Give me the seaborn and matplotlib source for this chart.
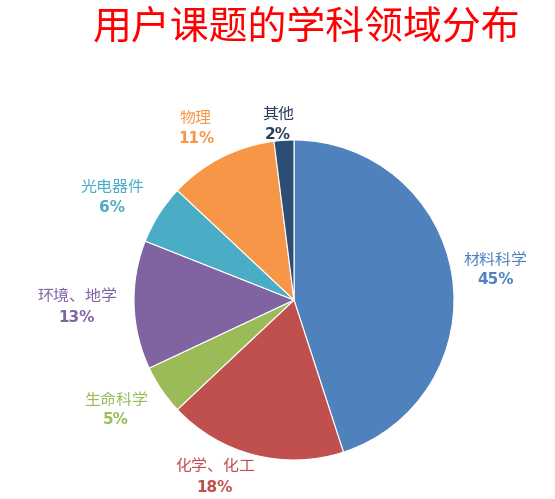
import matplotlib
matplotlib.use("Agg")
import matplotlib.pyplot as plt
import seaborn as sns

# data
categories = ["材料科学", "化学、化工", "生命科学", "环境、地学", "光电器件", "物理", "其他"]
shares = [45, 18, 5, 13, 6, 11, 2]
slice_colors = ["#4F81BD", "#C0504D", "#9BBB59", "#8064A2", "#4BACC6", "#F79646", "#2C4D75"]
label_colors = ["#4F81BD", "#C0504D", "#9BBB59", "#8064A2", "#4BACC6", "#F79646", "#2C3E5C"]
# label anchor in pixel coords of the 555x499 picture (x, y from top)
label_pos = [(496, 270), (215, 477), (116, 410), (77, 307), (112, 197), (196, 128), (278, 124)]

sns.set_theme(style="white")
plt.rcParams["font.family"] = ["Noto Sans CJK SC", "DejaVu Sans"]

fig = plt.figure(figsize=(5.55, 4.99), dpi=100)
ax = fig.add_axes([0, 0, 1, 1])
W, H = 555, 499

ax.pie(shares, colors=sns.color_palette(slice_colors), startangle=90, counterclock=False,
       center=(294, H - 300), radius=160,
       wedgeprops=dict(edgecolor="white", linewidth=0.8))

for name, val, col, (x, y) in zip(categories, shares, label_colors, label_pos):
    ax.text(x, H - y + 10, name, color=col, fontsize=11.5, ha="center", va="center")
    ax.text(x, H - y - 10, f"{val}%", color=col, fontsize=11, fontweight="bold",
            ha="center", va="center", family=["DejaVu Sans"])

ax.text(307, H - 27, "用户课题的学科领域分布", color="#FF0000", fontsize=28,
        ha="center", va="center")

ax.set_xlim(0, W)
ax.set_ylim(0, H)
ax.set_aspect("equal")
ax.axis("off")

fig.savefig("out.png", dpi=100, facecolor="white")
